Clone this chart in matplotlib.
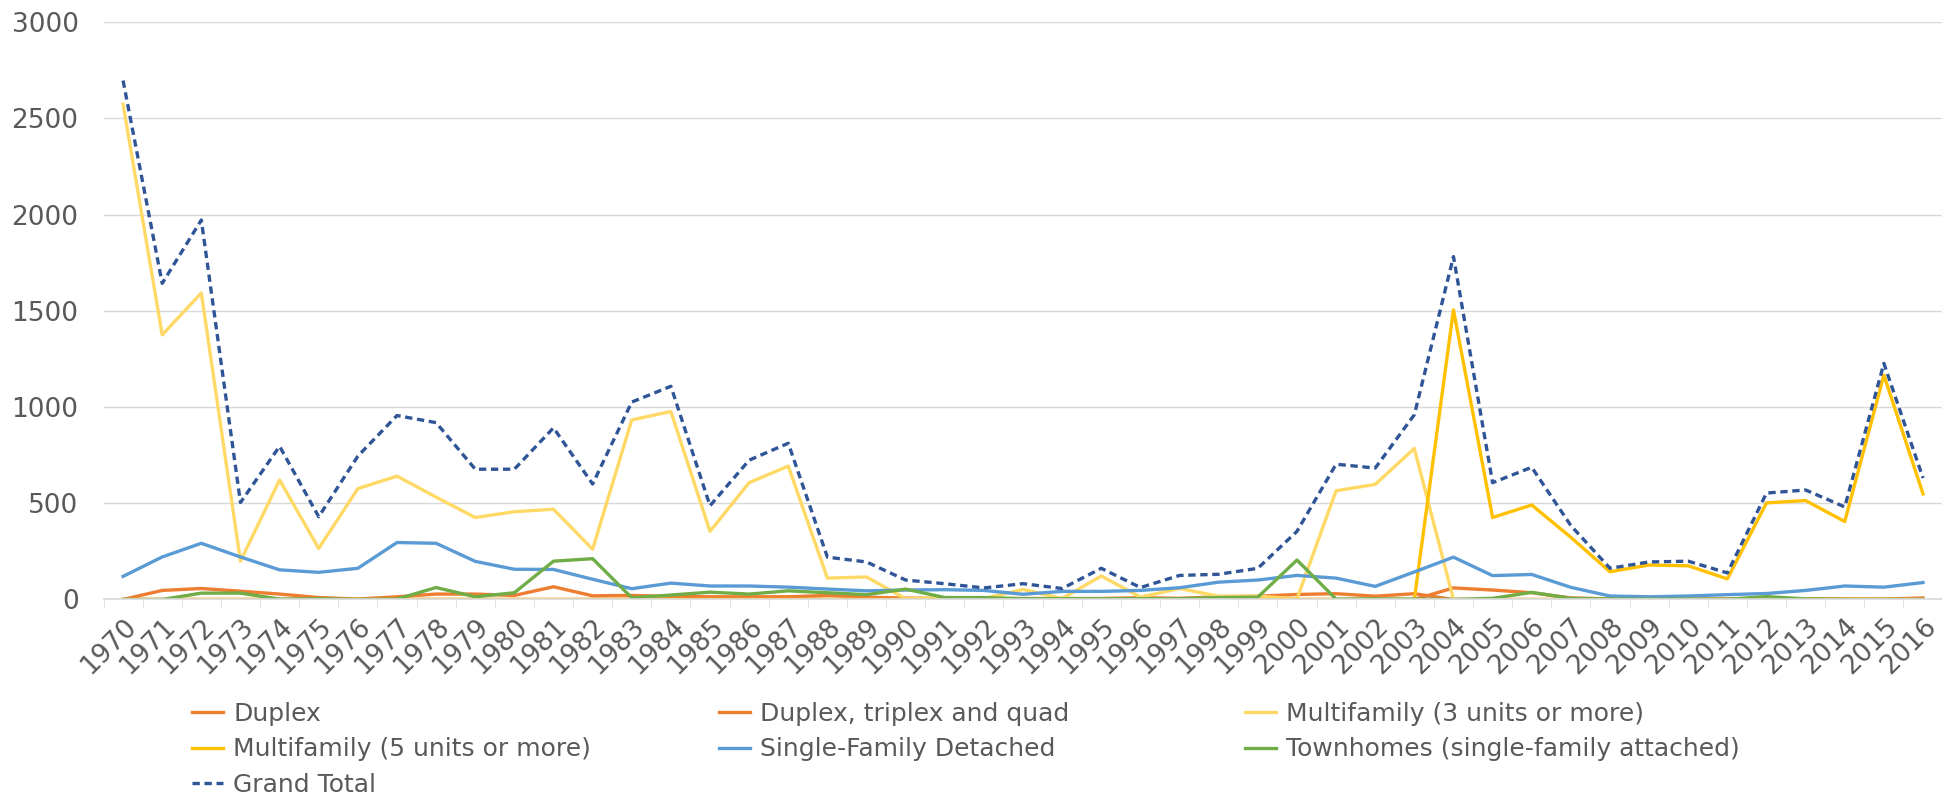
import matplotlib
matplotlib.use('Agg')
import matplotlib.pyplot as plt

# Permisos por tipo de vivienda, 1970-2016
anos = list(range(1970, 2017))

duplex = [0, 47, 57, 43, 28, 10, 2, 14, 28, 28, 21, 66, 19, 21, 16, 14, 14, 14, 21, 12,
          7, 5, 4, 5, 5, 5, 9, 6, 14, 17, 26, 30, 17, 30,
          0, 0, 0, 0, 0, 0, 0, 0, 0, 0, 0, 0, 0]
duplex_tq = [0] * 34 + [60, 49, 35, 8, 3, 2, 2, 3, 4, 4, 3, 2, 8]
multi_3 = [2574, 1375, 1593, 199, 621, 265, 576, 641, 532, 426, 456, 469, 261, 933, 977,
           354, 607, 693, 111, 117, 4, 10, 5, 52, 5, 122, 12, 57, 17, 17, 3, 565, 598, 785,
           0, 0, 0, 0, 0, 0, 0, 0, 0, 0, 0, 0, 0]
multi_5 = [0] * 34 + [1505, 426, 491, 323, 144, 179, 175, 107, 502, 514, 405, 1166, 549]
unifamiliar = [120, 221, 292, 221, 154, 141, 162, 296, 292, 198, 157, 156, 105, 56, 85,
               70, 70, 64, 54, 45, 49, 51, 47, 27, 42, 42, 47, 61, 90, 101, 125, 111, 68, 143,
               220, 124, 130, 63, 18, 14, 18, 25, 31, 47, 70, 64, 88]
townhomes = [0, 0, 33, 33, 2, 4, 0, 2, 62, 14, 35, 199, 212, 9, 23, 38, 28, 45, 35, 25,
             54, 10, 10, 4, 4, 4, 4, 4, 10, 12, 205, 2, 3, 2, 0, 6, 37, 6, 2, 2, 2, 1, 15, 3,
             0, 0, 0]
total = [2697, 1643, 1972, 504, 796, 430, 745, 956, 919, 677, 677, 892, 600, 1026, 1108,
         487, 724, 812, 220, 195, 101, 82, 60, 82, 57, 162, 62, 125, 131, 162, 354, 703, 683,
         960, 1782, 607, 687, 384, 162, 195, 199, 138, 553, 569, 481, 1227, 631]

series = [
    ('Duplex', duplex, '#ED7D31', '-'),
    ('Duplex, triplex and quad', duplex_tq, '#ED7D31', '-'),
    ('Multifamily (3 units or more)', multi_3, '#FFD966', '-'),
    ('Multifamily (5 units or more)', multi_5, '#FFC000', '-'),
    ('Single-Family Detached', unifamiliar, '#5B9BD5', '-'),
    ('Townhomes (single-family attached)', townhomes, '#70AD47', '-'),
    ('Grand Total', total, '#2F5597', '--'),
]

plt.rcParams['font.family'] = ['DejaVu Sans']
gris = '#595959'

fig = plt.figure(figsize=(19.42, 7.94), dpi=100)
ax = fig.add_axes([0.0533, 0.245, 0.947, 0.727])

x = list(range(len(anos)))
lineas = {}
for nombre, valores, color, estilo in series:
    ln, = ax.plot(x, valores, color=color, linestyle=estilo, linewidth=2.4,
                  dashes=(2.2, 1.4) if estilo == '--' else (None, None), label=nombre)
    lineas[nombre] = ln

ax.set_xlim(-0.5, len(anos) - 0.5)
ax.set_ylim(0, 3000)
ax.set_yticks(range(0, 3001, 500))
ax.grid(axis='y', color='#D9D9D9', linewidth=1)
ax.set_axisbelow(True)
for lado in ['top', 'right', 'left']:
    ax.spines[lado].set_visible(False)
ax.spines['bottom'].set_color('#D9D9D9')
ax.spines['bottom'].set_linewidth(1.2)

ax.set_xticks(x)
ax.set_xticklabels([str(a) for a in anos], rotation=45, ha='right', rotation_mode='anchor')
ax.set_xticks([i + 0.5 for i in range(-1, len(anos))], minor=True)
ax.tick_params(axis='x', which='major', length=0, pad=10, labelsize=19, labelcolor=gris)
ax.tick_params(axis='x', which='minor', length=6, color='#D9D9D9')
ax.tick_params(axis='y', length=0, pad=18, labelsize=19, labelcolor=gris)

# Leyenda en tres columnas fijas, como en Excel
columnas = [
    (['Duplex', 'Multifamily (5 units or more)', 'Grand Total'], 0.0989),
    (['Duplex, triplex and quad', 'Single-Family Detached'], 0.370),
    (['Multifamily (3 units or more)', 'Townhomes (single-family attached)'], 0.641),
]
for nombres, xpos in columnas:
    leg = fig.legend([lineas[n] for n in nombres], nombres, loc='upper left',
                     bbox_to_anchor=(xpos, 0.116), frameon=False, fontsize=18,
                     handlelength=1.24, handletextpad=0.4, labelspacing=0.46,
                     borderaxespad=0, borderpad=0)
    for t in leg.get_texts():
        t.set_color(gris)

plt.savefig('out.png', dpi=100)
plt.close()
